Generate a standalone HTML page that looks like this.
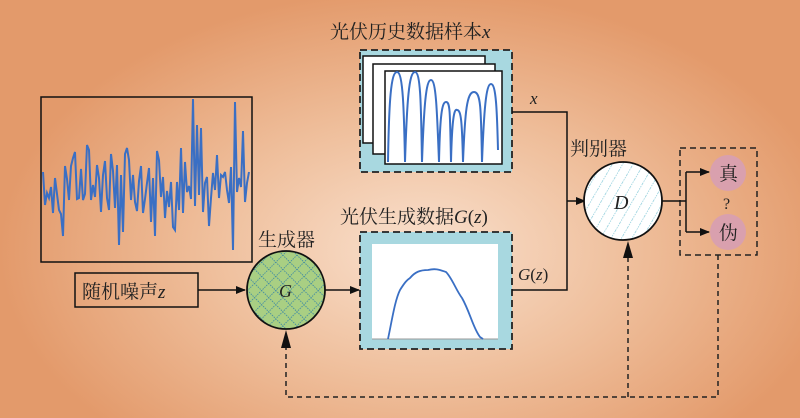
<!DOCTYPE html>
<html><head><meta charset="utf-8"><style>
html,body{margin:0;padding:0}
body{width:800px;height:418px;overflow:hidden;background:radial-gradient(ellipse 420px 260px at 420px 250px,#f9e0cd 0%,#efbf9c 50%,#e39a6b 100%);}
svg{position:absolute;left:0;top:0}
text{font-family:"Liberation Serif","Noto Serif CJK SC",serif;fill:#222}
</style></head><body>
<svg width="800" height="418" viewBox="0 0 800 418">
<defs>
<pattern id="cross" width="10" height="10" patternUnits="userSpaceOnUse" patternTransform="rotate(45)">
<rect width="10" height="10" fill="#a9cf83"/>
<path d="M0 0V10M0 0H10" stroke="#2f7fa8" stroke-width="1.4" stroke-dasharray="1.5 1"/>
</pattern>
<pattern id="hatch" width="9" height="9" patternUnits="userSpaceOnUse" patternTransform="rotate(-60)">
<rect width="9" height="9" fill="#fff"/>
<path d="M0 0H9" stroke="#7cc6d6" stroke-width="1.2" stroke-dasharray="1.5 1"/>
</pattern>
<marker id="ar" markerWidth="10" markerHeight="8" refX="9" refY="4" orient="auto" markerUnits="userSpaceOnUse"><path d="M0 0L10 4L0 8z" fill="#111"/></marker>
</defs>

<rect x="41" y="97" width="211" height="165" fill="none" stroke="#111" stroke-width="1.5"/>
<polyline fill="none" stroke="#3a6fc4" stroke-width="2" points="43,172 45,205 47,193 49,198 51,187 53,213 55,178 57,194 59,210 61,214 63,236 65,166 67,179 69,200 71,166 73,158 75,152 77,199 79,198 81,169 83,200 85,194 87,145 89,150 91,200 93,185 95,197 97,165 99,178 101,212 103,175 105,161 107,198 109,210 111,154 113,171 115,208 117,165 119,245 121,175 123,232 125,154 127,148 129,160 131,200 133,175 135,202 137,211 139,181 141,166 143,213 145,199 147,183 149,168 151,222 153,178 155,236 157,151 159,160 161,197 163,177 165,218 167,191 169,207 171,182 173,227 175,230 177,182 179,210 181,148 183,213 185,162 187,192 189,186 191,199 193,99 195,206 197,125 199,195 201,128 203,212 205,183 207,177 209,226 211,198 213,173 215,190 217,155 219,198 221,175 223,177 225,172 227,190 229,203 231,167 233,250 235,102 237,192 239,178 241,187 243,131 245,202 247,183 249,172"/>

<rect x="360" y="50" width="152" height="122" fill="#a8d8e0" stroke="#222" stroke-width="1.8" stroke-dasharray="7 4"/>
<rect x="363" y="56" width="122" height="87" fill="#fff" stroke="#111" stroke-width="1.5"/>
<rect x="373" y="64" width="122" height="90" fill="#fff" stroke="#111" stroke-width="1.5"/>
<rect x="385" y="71" width="117" height="93" fill="#fff" stroke="#111" stroke-width="1.5"/>
<path d="M388,162 C389,100 391,72 397,72 C403,72 404,110 405,162 C407,100 409,72 415,72 C421,72 421,110 422,162 C424,105 426,80 431,80 C436,80 437,110 439,162 C440,115 442,102 446,102 C450,102 450,110 451,162 C452,120 454,108 457,110 C461,110 462,120 463,162 C465,110 467,92 474,92 C481,92 481,110 482,162 C484,110 486,84 491,84 C496,84 497,110 498,150" fill="none" stroke="#3a6fc4" stroke-width="2"/>
<text x="330" y="38" font-size="19">光伏历史数据样本<tspan font-style="italic">x</tspan></text>

<rect x="360" y="232" width="152" height="117" fill="#a8d8e0" stroke="#222" stroke-width="1.8" stroke-dasharray="7 4"/>
<rect x="372" y="244" width="126" height="95" fill="#fff"/>
<line x1="372" y1="339" x2="498" y2="339" stroke="#999"/>
<path d="M388,339 C392,320 395,300 400,290 C405,282 407,280 410,278 C415,272 420,270 428,270 C436,268 440,270 446,272 C452,278 456,290 462,298 C470,312 473,328 480,337 L483,339" fill="none" stroke="#3a6fc4" stroke-width="1.8"/>
<text x="340" y="223" font-size="19">光伏生成数据<tspan font-style="italic">G</tspan>(<tspan font-style="italic">z</tspan>)</text>

<rect x="75" y="273" width="123" height="34" fill="none" stroke="#111" stroke-width="1.5"/>
<text x="82" y="298" font-size="19">随机噪声<tspan font-style="italic">z</tspan></text>
<line x1="198" y1="290" x2="245" y2="290" stroke="#111" stroke-width="1.5" marker-end="url(#ar)"/>

<circle cx="286" cy="290" r="39" fill="url(#cross)" stroke="#111" stroke-width="1.8"/>
<text x="279" y="297" font-size="18" font-style="italic">G</text>
<text x="258" y="246" font-size="19">生成器</text>
<line x1="325" y1="290" x2="359" y2="290" stroke="#111" stroke-width="1.5" marker-end="url(#ar)"/>

<polyline points="512,112 567,112 567,290 512,290" fill="none" stroke="#111" stroke-width="1.5"/>
<text x="530" y="104" font-size="17" font-style="italic">x</text>
<text x="518" y="280" font-size="17"><tspan font-style="italic">G</tspan>(<tspan font-style="italic">z</tspan>)</text>
<line x1="567" y1="201" x2="585" y2="201" stroke="#111" stroke-width="1.5" marker-end="url(#ar)"/>

<circle cx="623" cy="201" r="39" fill="url(#hatch)" stroke="#111" stroke-width="1.8"/>
<text x="614" y="209" font-size="20" font-style="italic">D</text>
<text x="570" y="155" font-size="19">判别器</text>

<rect x="680" y="148" width="77" height="107" fill="none" stroke="#222" stroke-width="1.5" stroke-dasharray="6 4"/>
<polyline points="662,201 686,201" fill="none" stroke="#111" stroke-width="1.5"/>
<polyline points="686,172 686,232" fill="none" stroke="#111" stroke-width="1.5"/>
<line x1="686" y1="172" x2="709" y2="172" stroke="#111" stroke-width="1.5" marker-end="url(#ar)"/>
<line x1="686" y1="232" x2="709" y2="232" stroke="#111" stroke-width="1.5" marker-end="url(#ar)"/>
<circle cx="728" cy="173" r="18" fill="#d9a0ae"/>
<circle cx="728" cy="232" r="18" fill="#d9a0ae"/>
<text x="719" y="180" font-size="19">真</text>
<text x="719" y="239" font-size="19">伪</text>
<text x="723" y="209" font-size="16">?</text>

<polyline points="718,255 718,397 286,397 286,345" fill="none" stroke="#222" stroke-width="1.5" stroke-dasharray="5 4"/>
<polygon points="286,330 281,348 291,348" fill="#111"/>
<polyline points="628,397 628,255" fill="none" stroke="#222" stroke-width="1.5" stroke-dasharray="5 4"/>
<polygon points="628,241 623,258 633,258" fill="#111"/>
</svg>
</body></html>
